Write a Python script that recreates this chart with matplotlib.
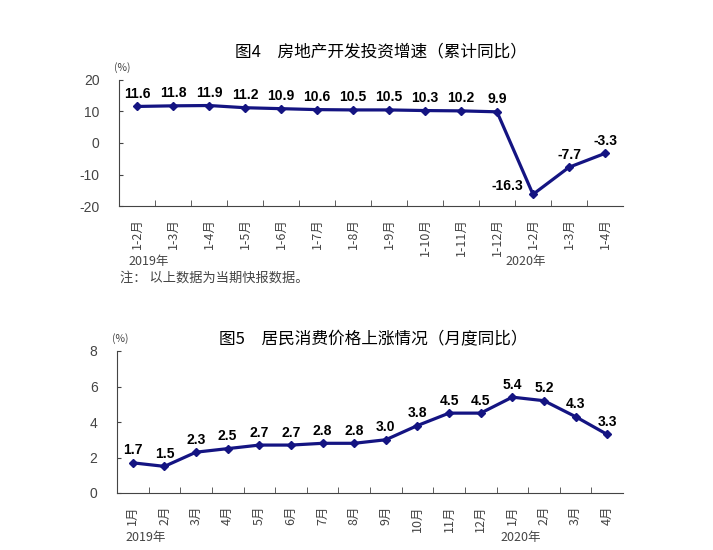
import matplotlib
matplotlib.use("Agg")
import matplotlib.pyplot as plt

plt.rcParams['font.family'] = ['Noto Sans CJK SC', 'DejaVu Sans']
plt.rcParams['axes.unicode_minus'] = False

# chart 4: real estate investment growth (cumulative yoy)
inv_labels = ["1-2月", "1-3月", "1-4月", "1-5月", "1-6月", "1-7月", "1-8月",
              "1-9月", "1-10月", "1-11月", "1-12月", "1-2月", "1-3月", "1-4月"]
inv_values = [11.6, 11.8, 11.9, 11.2, 10.9, 10.6, 10.5, 10.5, 10.3, 10.2, 9.9,
              -16.3, -7.7, -3.3]

# chart 5: CPI (monthly yoy)
cpi_labels = ["1月", "2月", "3月", "4月", "5月", "6月", "7月", "8月", "9月",
              "10月", "11月", "12月", "1月", "2月", "3月", "4月"]
cpi_values = [1.7, 1.5, 2.3, 2.5, 2.7, 2.7, 2.8, 2.8, 3.0, 3.8, 4.5, 4.5,
              5.4, 5.2, 4.3, 3.3]

navy = '#141482'
grey = '#444444'
W, H = 713, 550
num_font = ['Liberation Sans', 'DejaVu Sans']

fig = plt.figure(figsize=(W / 100, H / 100), dpi=100)


def px(x0, y_top, x1, y_bot):
    return [x0 / W, 1 - y_bot / H, (x1 - x0) / W, (y_bot - y_top) / H]


def style_axes(ax, n, ylim, yticks, labels):
    ax.set_xlim(-0.5, n - 0.5)
    ax.set_ylim(*ylim)
    ax.set_yticks(yticks)
    ax.set_yticklabels([str(t) for t in yticks], fontsize=10, color=grey,
                       family=num_font)
    ax.tick_params(axis='y', direction='in', length=3, pad=14, color=grey)
    ax.spines['top'].set_visible(False)
    ax.spines['right'].set_visible(False)
    ax.spines['left'].set_color(grey)
    ax.spines['bottom'].set_color(grey)
    ax.set_xticks([i + 0.5 for i in range(n - 1)], minor=True)
    ax.set_xticks(range(n))
    ax.set_xticklabels(labels, rotation=90, fontsize=9, color=grey)
    ax.tick_params(axis='x', which='major', length=0, pad=9)
    ax.tick_params(axis='x', which='minor', direction='in', length=4,
                   color=grey)


# ---- top chart ----
ax1 = fig.add_axes(px(119, 80, 623, 206))
x1 = list(range(len(inv_values)))
ax1.plot(x1, inv_values, color=navy, lw=2.3, marker='D', ms=4.5)
style_axes(ax1, len(inv_values), (-20, 20), [-20, -10, 0, 10, 20], inv_labels)
for i, v in enumerate(inv_values):
    if i == 11:
        ax1.annotate(f"{v:.1f}", (i, v), xytext=(-7, 1), textcoords='offset points',
                     ha='right', va='bottom', fontsize=10, fontweight='bold',
                     family=num_font)
    else:
        ax1.annotate(f"{v:.1f}", (i, v), xytext=(0, 4), textcoords='offset points',
                     ha='center', va='bottom', fontsize=10, fontweight='bold',
                     family=num_font)
fig.text(381 / W, 1 - 52 / H, "图4　房地产开发投资增速（累计同比）", ha='center',
         va='center', fontsize=12)
fig.text(122 / W, 1 - 68 / H, "(%)", ha='center', va='center', fontsize=7.5,
         color=grey)
fig.text(128 / W, 1 - 262 / H, "2019年", ha='left', va='center', fontsize=9,
         color=grey)
fig.text(505 / W, 1 - 262 / H, "2020年", ha='left', va='center', fontsize=9,
         color=grey)
fig.text(120 / W, 1 - 278 / H, "注： 以上数据为当期快报数据。", ha='left',
         va='center', fontsize=9.5, color=grey)

# ---- bottom chart ----
ax2 = fig.add_axes(px(117, 351, 623, 493))
x2 = list(range(len(cpi_values)))
ax2.plot(x2, cpi_values, color=navy, lw=2.3, marker='D', ms=4.5)
style_axes(ax2, len(cpi_values), (0, 8), [0, 2, 4, 6, 8], cpi_labels)
for i, v in enumerate(cpi_values):
    ax2.annotate(f"{v:.1f}", (i, v), xytext=(0, 4), textcoords='offset points',
                 ha='center', va='bottom', fontsize=10, fontweight='bold',
                 family=num_font)
fig.text(373 / W, 1 - 340 / H, "图5　居民消费价格上涨情况（月度同比）", ha='center',
         va='center', fontsize=12)
fig.text(120 / W, 1 - 339 / H, "(%)", ha='center', va='center', fontsize=7.5,
         color=grey)
fig.text(125 / W, 1 - 538 / H, "2019年", ha='left', va='center', fontsize=9,
         color=grey)
fig.text(500 / W, 1 - 538 / H, "2020年", ha='left', va='center', fontsize=9,
         color=grey)

fig.savefig("out.png", dpi=100)
